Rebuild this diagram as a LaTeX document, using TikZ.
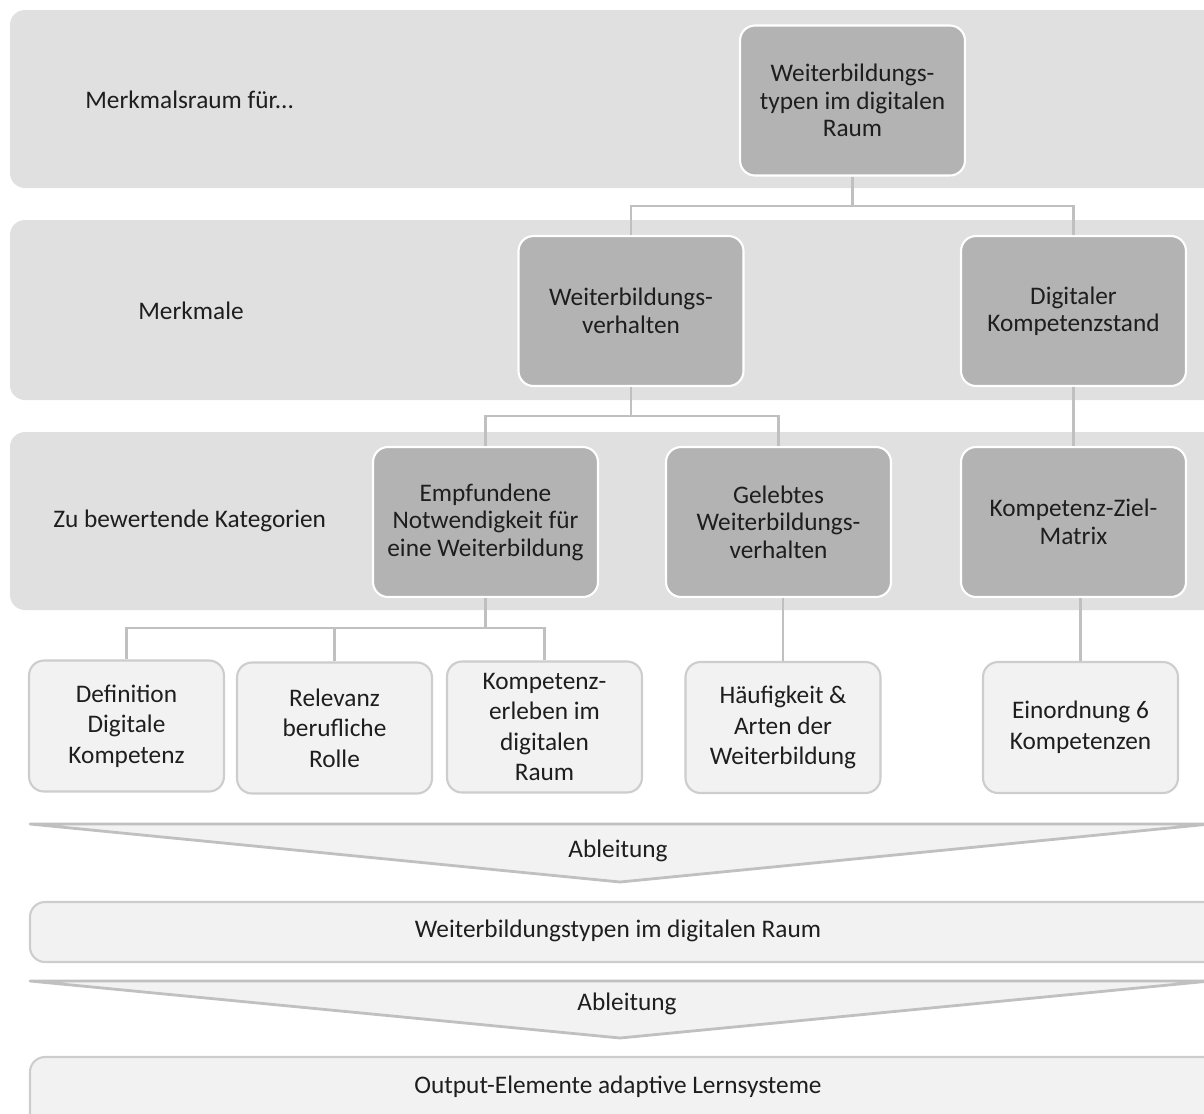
\documentclass[tikz,border=0pt]{standalone}
\usepackage{fontspec}
\setmainfont{Carlito}
\definecolor{bandgray}{HTML}{E0E0E0}
\definecolor{boxgray}{HTML}{B3B3B3}
\definecolor{lightgray}{HTML}{F2F2F2}
\definecolor{linegray}{HTML}{C0C0C0}
\definecolor{txt}{HTML}{1E1E1E}
\tikzset{
  band/.style={fill=bandgray, rounded corners=0.3cm},
  dark/.style={draw=white, line width=1.2pt, fill=boxgray, rounded corners=0.3cm,
    minimum width=4.5cm, minimum height=3cm, align=center,
    font=\fontsize{14.4}{15.6}\selectfont},
  light/.style={draw=linegray!80, line width=1.2pt, fill=lightgray, rounded corners=0.3cm,
    minimum width=3.9cm, minimum height=2.62cm, align=center,
    font=\fontsize{14.4}{17.4}\selectfont},
  lbl/.style={anchor=west, inner sep=0pt, font=\fontsize{14.4}{15.6}\selectfont},
  plain/.style={font=\fontsize{14.4}{15.6}\selectfont},
  conn/.style={draw=linegray, line width=1.4pt},
  chev/.style={draw=linegray, line width=1.6pt, fill=lightgray, line join=round},
  bar/.style={draw=linegray!80, line width=1.2pt, fill=lightgray, rounded corners=0.3cm}
}
\begin{document}
\begin{tikzpicture}[x=0.02cm,y=-0.02cm, every node/.append style={text=txt}]
  \useasboundingbox (0,0) rectangle (1204,1113);
  \clip (0,0) rectangle (1204,1113);
  % Ebenen
  \fill[band] (10,10) rectangle (1225,188);
  \fill[band] (10,220) rectangle (1225,400);
  \fill[band] (10,432) rectangle (1225,610);
  \node[lbl] (raum) at (85,100) {Merkmalsraum für.{}.{}.};
  \node[lbl] (merk) at (138,311) {Merkmale};
  \node[lbl] (kat) at (53,521) {Zu bewertende Kategorien};
  % Knoten
  \node[dark] (typ) at (852.5,100.5) {Weiterbildungs-\\typen im digitalen\\Raum};
  \node[dark] (verh) at (631,311) {Weiterbildungs-\\verhalten};
  \node[dark] (stand) at (1073.5,311) {Digitaler\\Kompetenzstand};
  \node[dark] (empf) at (485.5,522) {Empfundene\\Notwendigkeit für\\eine Weiterbildung};
  \node[dark] (geleb) at (778.5,522) {Gelebtes\\Weiterbildungs-\\verhalten};
  \node[dark] (matrix) at (1073.5,522) {Kompetenz-Ziel-\\Matrix};
  \node[light] (def) at (126.5,726) {Definition\\Digitale\\Kompetenz};
  \node[light] (rel) at (334.5,728) {Relevanz\\berufliche\\Rolle};
  \node[light] (erl) at (544.5,727) {Kompetenz-\\erleben im\\digitalen\\Raum};
  \node[light] (hauf) at (783,727.5) {Häufigkeit \&\\Arten der\\Weiterbildung};
  \node[light] (einord) at (1080.5,727.5) {Einordnung 6\\Kompetenzen};
  % Verbindungen
  \coordinate (j1) at (852.5,206);
  \coordinate (j2) at (631,416);
  \coordinate (j3) at (485.5,628);
  \draw[conn] (typ.south) -- (j1);
  \draw[conn] (j1) -| (verh.north);
  \draw[conn] (j1) -| (stand.north);
  \draw[conn] (verh.south) -- (j2);
  \draw[conn] (j2) -| (empf.north);
  \draw[conn] (j2) -| (geleb.north);
  \draw[conn] (stand.south) -- (matrix.north);
  \draw[conn] (empf.south) -- (j3);
  \draw[conn] (j3) -| (def.north);
  \draw[conn] (j3) -| (rel.north);
  \draw[conn] (j3) -| (erl.north);
  \draw[conn] (geleb.south -| hauf.north) -- (hauf.north);
  \draw[conn] (matrix.south -| einord.north) -- (einord.north);
  % Ableitungen
  \filldraw[chev] (30,824) -- (1210,824) -- (620,882) -- cycle;
  \node[plain] (abl1) at (618,851) {Ableitung};
  \draw[bar] (30,902) rectangle (1225,962);
  \node[plain] (wtyp) at (618,931) {Weiterbildungstypen im digitalen Raum};
  \filldraw[chev] (30,981) -- (1210,981) -- (620,1038) -- cycle;
  \node[plain] (abl2) at (627,1004) {Ableitung};
  \draw[bar] (30,1057) rectangle (1225,1130);
  \node[plain] (out) at (618,1087) {Output-Elemente adaptive Lernsysteme};
\end{tikzpicture}
\end{document}
